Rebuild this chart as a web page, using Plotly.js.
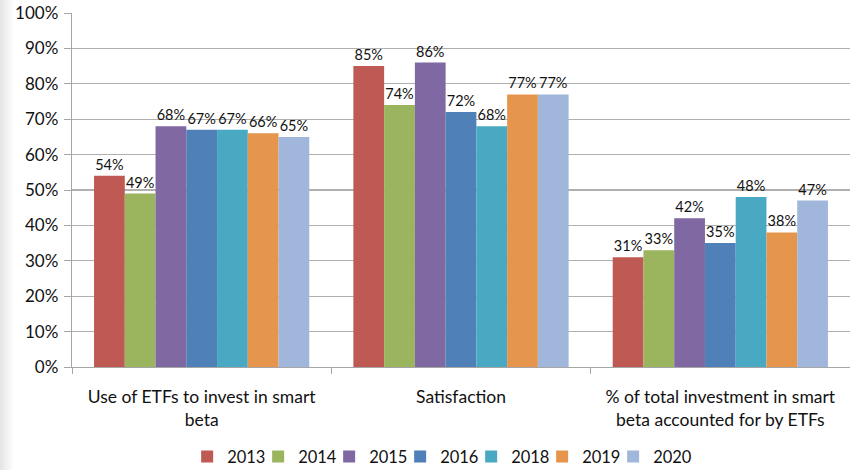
<!DOCTYPE html>
<html>
<head>
<meta charset="utf-8">
<script src="https://cdn.plot.ly/plotly-3.0.1.min.js"></script>
<style>
html,body{margin:0;padding:0;width:850px;height:470px;overflow:hidden;
background:linear-gradient(to right,#e4e4e4 0px,#f4f4f4 8px,#ffffff 14px,#ffffff 100%);}
#chart{width:850px;height:470px;}
</style>
</head>
<body>
<div id="chart"></div>
<script>
const categories = [
  "Use of ETFs to invest in smart<br>beta",
  "Satisfaction",
  "% of total investment in smart<br>beta accounted for by ETFs"
];
const seriesNames = ["2013", "2014", "2015", "2016", "2018", "2019", "2020"];
const v2013 = [54, 85, 31];
const v2014 = [49, 74, 33];
const v2015 = [68, 86, 42];
const v2016 = [67, 72, 35];
const v2018 = [67, 68, 48];
const v2019 = [66, 77, 38];
const v2020 = [65, 77, 47];
const seriesValues = [v2013, v2014, v2015, v2016, v2018, v2019, v2020];
const colors = ["#bf5954", "#9bb45e", "#8068a2", "#4f80b7", "#4aa9c2", "#e5964c", "#a0b6da"];
const yTickVals = [0,10,20,30,40,50,60,70,80,90,100];

const FONT = "Lato, 'Open Sans', sans-serif";
const traces = seriesNames.map((n, i) => ({
  type: "bar",
  name: n,
  x: categories,
  y: seriesValues[i],
  marker: {color: colors[i]},
  text: seriesValues[i].map(v => v + "%"),
  textposition: "outside",
  textfont: {family: FONT, size: 14.5, color: "#111"},
  cliponaxis: false,
  hoverinfo: "skip"
}));
// invisible legend-only spacer so the last legend label is not clipped
traces.push({
  type: "bar", name: " ",
  x: categories, y: v2020,
  visible: "legendonly",
  marker: {color: "rgba(0,0,0,0)"},
  hoverinfo: "skip"
});

const layout = {
  width: 850, height: 470,
  margin: {l: 72, r: 0, t: 13, b: 103},
  paper_bgcolor: "rgba(0,0,0,0)",
  plot_bgcolor: "#ffffff",
  barmode: "group",
  bargap: 0.17,
  bargroupgap: 0,
  font: {family: FONT, color: "#111"},
  xaxis: {
    type: "category",
    automargin: false,
    showgrid: false,
    showline: true, linecolor: "#a6a6a6", linewidth: 1.3,
    ticks: "outside", tickson: "boundaries", ticklen: 6, tickcolor: "#a6a6a6",
    ticklabelstandoff: 14,
    tickfont: {family: FONT, size: 17.5, color: "#111"},
    fixedrange: true
  },
  yaxis: {
    automargin: false,
    range: [0, 100],
    tickvals: yTickVals,
    ticktext: yTickVals.map(v => v + "%"),
    showgrid: true, gridcolor: "#b0b0b0", gridwidth: 1.3,
    showline: true, linecolor: "#a6a6a6", linewidth: 1.3,
    ticks: "outside", ticklen: 7, tickcolor: "#a6a6a6",
    ticklabelstandoff: 2,
    tickfont: {family: FONT, size: 17, color: "#111"},
    zeroline: false,
    fixedrange: true
  },
  showlegend: true,
  legend: {
    orientation: "h",
    xref: "paper", x: 0.148, xanchor: "left",
    yref: "container", y: 0.028, yanchor: "middle",
    entrywidth: 26, entrywidthmode: "pixels",
    font: {family: FONT, size: 16.5, color: "#111"},
    traceorder: "normal",
    bgcolor: "rgba(0,0,0,0)"
  }
};

Plotly.newPlot("chart", traces, layout, {displayModeBar: false, staticPlot: true});
</script>
</body>
</html>
